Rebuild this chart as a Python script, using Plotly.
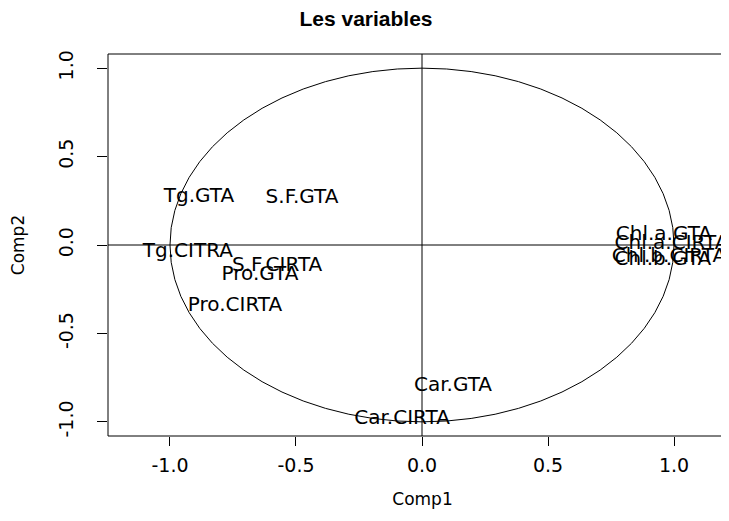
import plotly.graph_objects as go

labels = ["Tg.GTA", "S.F.GTA", "Tg.CITRA", "S.F.CIRTA", "Pro.GTA", "Pro.CIRTA",
          "Car.GTA", "Car.CIRTA", "Chl.a.GTA", "Chl.a.CIRTA", "Chl.b.CIRTA", "Chl.b.GTA"]
comp1 = [-0.885, -0.476, -0.929, -0.575, -0.643, -0.742,
         0.123, -0.079, 0.960, 0.990, 0.980, 0.956]
comp2 = [0.273, 0.267, -0.040, -0.120, -0.170, -0.347,
         -0.795, -0.983, 0.057, 0.006, -0.068, -0.085]

tickvals = [-1.0, -0.5, 0.0, 0.5, 1.0]
ticktext = ["-1.0", "-0.5", "0.0", "0.5", "1.0"]

font = "DejaVu Sans, sans-serif"

fig = go.Figure()
fig.add_trace(go.Scatter(
    x=comp1, y=comp2, mode="text", text=labels,
    textposition="middle center",
    textfont=dict(family=font, size=20, color="black"),
    showlegend=False, cliponaxis=False,
))

line = dict(color="black", width=1)
# unit circle and axes through the origin
fig.add_shape(type="circle", xref="x", yref="y", x0=-1, x1=1, y0=-1, y1=1, line=line)
fig.add_shape(type="line", xref="paper", yref="y", x0=0, x1=1, y0=0, y1=0, line=line)
fig.add_shape(type="line", xref="x", yref="paper", x0=0, x1=0, y0=0, y1=1, line=line)
# box (right side falls outside the picture)
fig.add_shape(type="line", xref="paper", yref="paper", x0=0, x1=0, y0=0, y1=1, line=line)
fig.add_shape(type="line", xref="paper", yref="paper", x0=0, x1=1, y0=0, y1=0, line=line)
fig.add_shape(type="line", xref="paper", yref="paper", x0=0, x1=1, y0=1, y1=1, line=line)

fig.update_layout(
    width=729, height=521,
    margin=dict(l=100, r=0, t=46, b=93),
    plot_bgcolor="white", paper_bgcolor="white",
    font=dict(family=font, size=18, color="black"),
    title=dict(text="<b>Les variables</b>", x=(358 - 100) / 629, xref="paper",
               xanchor="center", y=1 - 11 / 521, yanchor="middle",
               font=dict(family="Liberation Sans, Arial, sans-serif", size=21,
                         color="black")),
)

fig.update_xaxes(
    range=[-1.246, 1.25], showgrid=False, zeroline=False, showline=False,
    automargin=False,
    tickmode="array", tickvals=tickvals, ticktext=ticktext,
    ticks="outside", ticklen=9, tickcolor="black", ticklabelstandoff=3,
    tickfont=dict(size=19),
    title=dict(text="Comp1", standoff=18, font=dict(size=17)),
)
fig.update_yaxes(
    range=[-1.08, 1.08], showgrid=False, zeroline=False, showline=False,
    automargin=False,
    tickmode="array", tickvals=tickvals, ticktext=ticktext, tickangle=-90,
    ticks="outside", ticklen=10, tickcolor="black", ticklabelstandoff=16,
    tickfont=dict(size=19),
    title=dict(text="Comp2", standoff=33, font=dict(size=17)),
)

fig.write_html("out.html")
